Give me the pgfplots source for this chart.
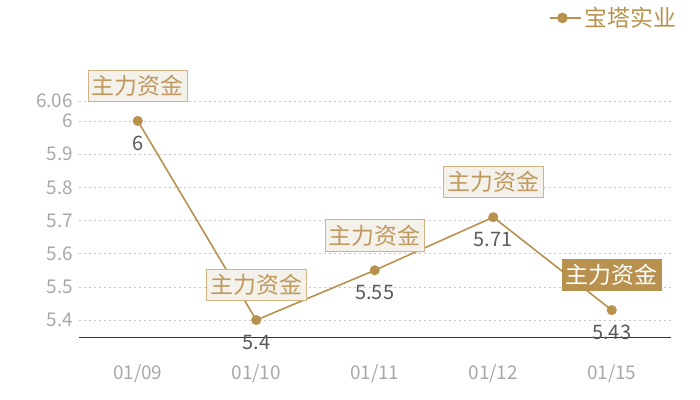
\documentclass[border=0pt]{standalone}
\usepackage{pgfplots}
\pgfplotsset{compat=1.18}
\usepackage{fontspec}
\setmainfont{Noto Sans CJK SC}
\definecolor{gold}{HTML}{B8914E}
\definecolor{boxfill}{HTML}{F4F0EA}
\definecolor{boxline}{HTML}{D2B483}
\definecolor{boxtext}{HTML}{BE9A60}
\definecolor{tickgray}{HTML}{A8A8A8}
\definecolor{valgray}{HTML}{5A5A5A}
\begin{document}
\begin{tikzpicture}
\path[use as bounding box] (0,0) rectangle (700bp,400bp);
\begin{axis}[
  at={(78.5bp,63bp)}, anchor=south west,
  scale only axis, width=592.5bp, height=236bp,
  clip=false,
  xmin=-0.5, xmax=4.5, ymin=5.349, ymax=6.06,
  xtick={0,1,2,3,4},
  xticklabels={01/09,01/10,01/11,01/12,01/15},
  ytick={5.4,5.5,5.6,5.7,5.8,5.9,6,6.06},
  yticklabels={5.4,5.5,5.6,5.7,5.8,5.9,6,6.06},
  major tick length=0pt,
  axis x line*=bottom, axis y line*=left,
  separate axis lines,
  x axis line style={draw=black!80, line width=0.8bp, -},
  y axis line style={draw=none},
  ymajorgrids,
  major grid style={draw=black!22, line width=0.6bp, dash pattern=on 2bp off 3bp},
  /pgf/number format/assume math mode=true,
  ticklabel style={font=\fontsize{19}{19}\selectfont, text=tickgray},
  yticklabel style={xshift=-2bp},
  xticklabel style={yshift=-24bp},
  legend style={at={(1.012,1.352)}, anchor=east, draw=none, fill=none,
    font=\fontsize{23}{23}\selectfont, text=gold, inner sep=0pt},
  legend image code/.code={
    \path (0bp,0bp) -- (31bp,0bp);
    \draw[gold, line width=1.5bp] (0bp,0bp) -- (24bp,0bp);
    \fill[gold] (12bp,0bp) circle (4.5bp);
  },
]
\addplot[gold, line width=1.6bp, mark=*, mark size=4.2bp,
  mark options={fill=gold, draw=gold},
  nodes near coords,
  every node near coord/.append style={anchor=center, yshift=-22bp,
    font=\fontsize{20}{20}\selectfont, text=valgray,
    /pgf/number format/assume math mode=true}]
  coordinates {(0,6) (1,5.4) (2,5.55) (3,5.71) (4,5.43)};
\addlegendentry{宝塔实业}
\addplot[draw=none, no marks, forget plot,
  nodes near coords={主力资金},
  every node near coord/.append style={anchor=center, yshift=35bp,
    font=\fontsize{23}{23}\selectfont, text=boxtext,
    fill=boxfill, draw=boxline, line width=0.8bp,
    inner xsep=4bp, inner ysep=5bp}]
  coordinates {(0,6) (1,5.4) (2,5.55) (3,5.71)};
\addplot[draw=none, no marks, forget plot,
  nodes near coords={主力资金},
  every node near coord/.append style={anchor=center, yshift=35bp,
    font=\fontsize{23}{23}\selectfont, text=white,
    fill=gold, draw=gold, line width=0.8bp,
    inner xsep=4bp, inner ysep=5bp}]
  coordinates {(4,5.43)};
\end{axis}
\end{tikzpicture}
\end{document}
